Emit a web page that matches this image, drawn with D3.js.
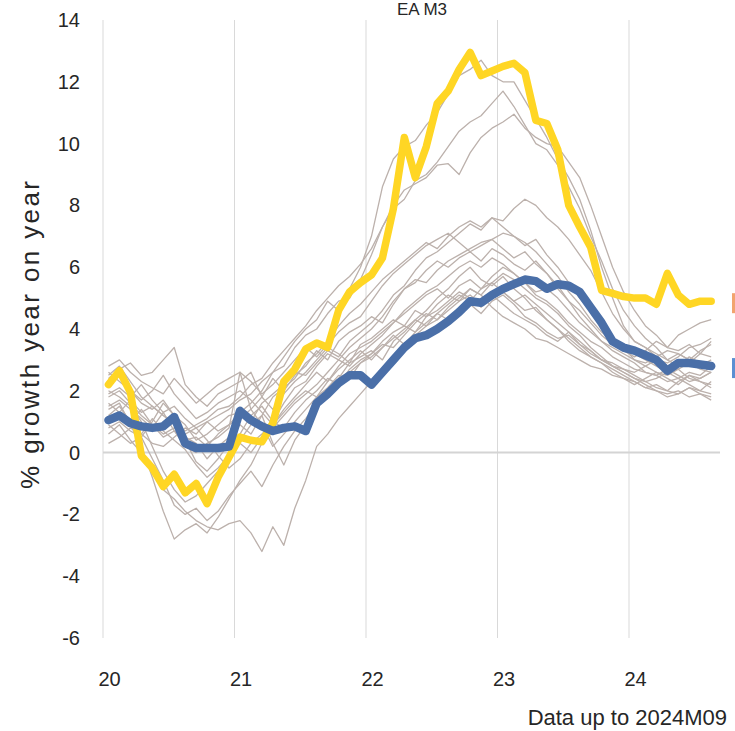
<!DOCTYPE html>
<html>
<head>
<meta charset="utf-8">
<script src="https://cdn.jsdelivr.net/npm/d3@7/dist/d3.min.js"></script>
<style>
  html, body { margin: 0; padding: 0; background: #fff; }
  svg { display: block; }
  text { font-family: "Liberation Sans", Arial, sans-serif; fill: #262626; }
</style>
</head>
<body>
<svg id="chart" width="735" height="731"></svg>
<script>
// Monthly year-on-year M3 growth, 2020M01 .. 2024M08
const yearTicks = [0, 12, 24, 36, 48];
const yearLabels = ["20", "21", "22", "23", "24"];
const yTicks = [-6, -4, -2, 0, 2, 4, 6, 8, 10, 12, 14];

// Euro area aggregate (blue)
const euroArea = [
  1.05, 1.2, 0.95, 0.85, 0.8, 0.85, 1.15, 0.3, 0.15, 0.15, 0.15, 0.2,
  1.35, 1.05, 0.85, 0.7, 0.8, 0.85, 0.7, 1.6, 1.9, 2.25, 2.5, 2.5,
  2.2, 2.6, 3.0, 3.4, 3.7, 3.8, 4.0, 4.25, 4.55, 4.9, 4.85, 5.1,
  5.3, 5.45, 5.6, 5.55, 5.3, 5.45, 5.4, 5.2, 4.7, 4.2, 3.6, 3.4,
  3.3, 3.15, 3.0, 2.65, 2.9, 2.9, 2.85, 2.8
];

// Highlighted country (yellow)
const highlighted = [
  2.2, 2.65, 1.95, -0.1, -0.5, -1.1, -0.7, -1.3, -1.0, -1.65, -0.8, -0.15,
  0.5, 0.4, 0.35, 0.95, 2.3, 2.7, 3.35, 3.55, 3.4, 4.6, 5.2, 5.5,
  5.75, 6.3, 7.9, 10.2, 8.9, 9.9, 11.3, 11.7, 12.4, 12.95, 12.2, 12.35,
  12.5, 12.6, 12.3, 10.75, 10.65, 9.8, 8.0, 7.3, 6.65, 5.25, 5.15, 5.05,
  5.0, 5.0, 4.8, 5.8, 5.1, 4.8, 4.9, 4.9
];

// Other member countries (grey)
const country01 = [
  1.8, 2.0, 1.6, 1.2, 0.9, 0.6, 0.8, 0.4, 0.5, 0.2, 0.6, 0.9,
  1.3, 1.6, 2.0, 2.6, 3.1, 3.6, 4.0, 4.3, 4.9, 4.6, 5.3, 6.0,
  7.0, 8.6, 9.5, 9.9, 10.1, 10.6, 11.0, 11.6, 12.2, 12.4, 12.7, 12.2,
  12.0, 12.0, 11.4, 10.8, 10.2, 9.5, 8.9, 8.2, 7.2, 6.0, 5.0, 4.1,
  3.6, 3.4, 3.1, 2.8, 3.0, 2.9, 2.7, 2.6
];
const country02 = [
  2.5, 2.8, 2.3, 1.8, 1.5, 1.2, 1.0, 0.7, 0.9, 1.1, 1.4, 1.5,
  1.8, 2.2, 2.4, 2.9, 3.3, 3.7, 4.1, 4.6, 5.0, 5.4, 5.7, 6.1,
  6.6, 7.3, 7.9, 8.2, 8.8, 9.0, 9.4, 9.9, 10.4, 10.7, 10.9, 11.3,
  11.7, 11.2, 10.6, 10.0, 9.8, 9.3, 8.6, 7.9, 7.0, 6.2, 5.3, 4.6,
  4.1, 3.7, 3.4, 3.0, 3.2, 3.0, 2.8, 3.0
];
const country03 = [
  1.2, 1.5, 1.0, 0.6, 0.3, 0.2, 0.5, 0.8, 0.6, 1.0, 1.2, 1.4,
  1.7, 1.9, 2.3, 2.6, 2.8, 3.4, 3.8, 4.0, 4.5, 4.9, 5.0, 5.6,
  6.4, 7.3, 8.0, 8.5, 8.7, 8.9, 9.3, 9.35, 9.0, 9.7, 10.2, 10.5,
  10.7, 10.95, 10.5, 10.2, 10.0, 9.9, 9.4, 8.9, 8.0, 7.0, 6.0, 5.2,
  4.6, 4.1, 3.8, 3.4, 3.3, 3.5, 3.2, 3.1
];
const country04 = [
  2.2, 2.5, 2.0, 1.6, 1.4, 1.7, 1.2, 0.9, 0.4, 0.6, 0.9, 1.2,
  1.3, 1.0, 1.6, 1.9, 2.2, 2.6, 2.5, 2.9, 3.3, 3.1, 3.6, 3.9,
  4.2, 4.6, 5.1, 5.4, 5.9, 6.3, 6.5, 6.8, 7.1, 7.4, 7.2, 7.6,
  7.5, 7.9, 8.2, 8.0, 7.6, 7.3, 6.9, 6.4, 5.9, 5.2, 4.5, 4.0,
  3.6, 3.4, 3.2, 3.0, 2.8, 3.1, 2.9, 2.7
];
const country05 = [
  1.5, 1.7, 1.4, 1.1, 0.8, 1.3, 0.7, 0.5, 0.3, -0.2, 0.2, 0.5,
  0.9, 0.6, 1.2, 1.8, 2.1, 2.4, 2.9, 3.2, 3.6, 4.1, 4.5, 4.8,
  5.2, 5.6, 5.9, 6.2, 6.5, 6.8, 6.6, 7.0, 7.3, 7.5, 7.3, 7.6,
  7.3, 7.0, 6.8, 6.5, 6.1, 5.7, 5.2, 4.8, 4.3, 3.9, 3.6, 3.4,
  3.0, 2.8, 2.6, 2.4, 2.2, 2.5, 2.3, 2.1
];
const country06 = [
  2.8, 3.0, 2.6, 2.3, 2.1, 1.9, 2.4, 2.0, 1.6, 1.9, 2.2, 2.4,
  2.6, 2.3, 1.9, 2.2, 2.6, 3.0, 3.4, 3.1, 3.5, 3.9, 4.2, 4.4,
  4.9, 5.4, 5.8, 6.1, 6.4, 6.7, 6.9, 7.1, 6.8, 6.5, 6.7, 6.9,
  6.6, 6.3, 6.5, 6.1, 5.8, 5.4, 4.9, 4.6, 4.2, 3.8, 3.5, 3.3,
  3.1, 3.3, 3.6, 3.4, 3.8, 4.0, 4.2, 4.3
];
const country07 = [
  0.8, 1.0, 0.7, 0.5, 1.0, 1.6, 1.2, 0.4, -0.3, -0.6, -0.2, 0.3,
  0.6, 1.2, 1.5, 1.0, 1.6, 2.1, 2.3, 2.8, 3.2, 3.0, 3.4, 3.7,
  4.0, 4.4, 4.9, 5.3, 5.6, 5.5, 5.9, 6.2, 6.4, 6.6, 6.8, 6.9,
  7.1, 7.0, 6.7, 6.9, 6.4, 6.0, 5.5, 5.0, 4.6, 4.1, 3.7, 3.5,
  3.2, 3.0, 2.8, 2.6, 2.7, 2.4, 2.3, 2.2
];
const country08 = [
  1.9, 2.1, 1.8, 2.2, 1.7, 1.3, 1.5, 1.1, 0.8, 1.0, 0.7, 0.9,
  1.1, 1.4, 1.8, 2.4, 2.0, 2.5, 2.8, 3.3, 3.0, 3.6, 3.9, 4.1,
  4.4, 4.2, 4.8, 5.3, 5.5, 5.9, 6.2, 6.0, 6.3, 6.5, 6.2, 6.6,
  6.4, 6.1, 5.9, 6.2, 5.8, 5.3, 4.9, 4.4, 4.0, 3.6, 3.3, 3.1,
  2.9, 2.6, 2.5, 2.7, 2.5, 2.3, 2.4, 2.6
];
const country09 = [
  1.4, 1.6, 0.9, 0.2, -0.8, -1.9, -2.8, -2.5, -2.3, -2.6, -2.1, -1.5,
  -0.9, -0.4, 0.3, 0.8, 1.2, 1.6, 1.9, 2.2, 2.6, 3.0, 2.8, 3.2,
  3.5, 3.8, 4.2, 4.5, 4.8, 5.1, 5.3, 5.0, 5.4, 5.6, 5.3, 5.5,
  5.2, 4.9, 5.1, 4.8, 4.5, 4.2, 3.9, 3.6, 3.3, 3.0, 2.8, 2.6,
  2.4, 2.3, 2.1, 2.0, 1.9, 2.1, 1.9, 1.8
];
const country10 = [
  0.6, 0.9, 0.4, 0.0, -0.5, -1.2, -1.5, -1.9, -2.2, -2.4, -2.5, -2.3,
  -2.2, -2.6, -3.2, -2.4, -3.0, -1.8, -0.9, 0.2, 0.6, 1.1, 1.5, 1.9,
  2.3, 2.7, 3.0, 3.4, 3.8, 4.1, 4.3, 4.6, 4.9, 5.1, 4.8, 5.0,
  5.2, 4.9, 4.6, 4.7, 4.3, 4.0, 3.7, 3.4, 3.1, 2.9, 2.7, 2.5,
  2.3, 2.1, 2.0, 1.9, 2.0, 1.8, 1.9, 1.7
];
const country11 = [
  2.0, 1.8, 1.5, 1.0, 0.2, -0.6, -1.2, -1.6, -1.4, -1.0, -0.6, -0.3,
  0.4, 0.9, 1.2, 0.3, -0.4, 0.4, 0.9, 1.5, 2.0, 2.4, 2.9, 3.1,
  3.3, 3.0, 3.6, 3.9, 4.3, 4.6, 5.0, 5.3, 5.7, 6.0, 5.6, 5.4,
  5.7, 5.3, 5.0, 4.6, 4.3, 4.0, 3.6, 3.3, 3.1, 2.9, 2.6, 2.4,
  2.2, 2.4, 2.6, 2.5, 2.7, 2.9, 3.2, 3.6
];
const country12 = [
  2.4, 2.7, 2.9, 2.5, 2.6, 3.0, 3.4, 2.2, 1.8, 1.5, 1.9, 2.1,
  2.3, 2.6, 1.8, 1.4, 1.9, 2.3, 2.6, 3.0, 3.4, 3.2, 2.9, 3.5,
  3.7, 4.0, 4.3, 4.1, 4.6, 4.4, 4.8, 5.1, 4.9, 5.3, 5.1, 4.7,
  4.4, 4.2, 4.0, 3.7, 3.6, 3.4, 3.2, 3.0, 2.8, 2.7, 2.5, 2.4,
  2.3, 2.1, 2.2, 2.0, 2.3, 2.5, 2.4, 2.6
];
const country13 = [
  1.6, 1.3, 1.0, 1.4, 0.9, 0.5, 0.7, 0.2, 0.0, 0.3, 0.5, 0.8,
  2.6, 1.4, 0.9, 0.2, 0.6, 1.0, 1.4, 1.8, 2.1, 2.5, 2.4, 2.9,
  3.2, 3.5, 3.4, 3.8, 4.2, 4.5, 4.3, 4.7, 5.0, 5.3, 5.1, 5.5,
  5.8, 5.6, 5.3, 5.0, 4.8, 4.5, 4.1, 3.8, 3.4, 3.1, 2.8, 2.7,
  2.6, 2.8, 3.0, 2.9, 3.1, 3.4, 3.5, 3.7
];
const country14 = [
  1.1, 1.3, 1.7, 1.3, 1.5, 1.2, 0.9, 0.6, 0.8, 0.4, -0.1, -0.5,
  -0.2, 0.3, 0.6, 1.0, 0.8, 1.3, 1.7, 2.0, 2.4, 2.2, 2.7, 3.0,
  3.2, 3.6, 3.9, 4.1, 3.9, 4.4, 4.6, 4.9, 5.2, 5.0, 4.7, 5.1,
  4.8, 4.5, 4.3, 4.1, 3.8, 3.6, 3.9, 3.5, 3.2, 3.0, 2.9, 2.7,
  2.5, 2.3, 2.4, 2.6, 2.4, 2.2, 2.0, 2.3
];
const country15 = [
  0.9, 0.6, 0.3, 0.5, -0.2, -0.9, -1.7, -2.0, -1.8, -2.2, -1.9, -1.4,
  -1.0, -0.6, -1.1, -0.4, 0.2, 0.7, 1.1, 1.6, 2.0, 2.3, 2.6, 2.9,
  3.1, 3.4, 3.7, 4.0, 4.3, 4.1, 4.5, 4.8, 5.1, 4.9, 5.3, 5.7,
  6.0, 5.8, 5.5, 5.1, 4.9, 4.6, 4.2, 3.9, 3.6, 3.4, 3.1, 2.9,
  2.7, 2.6, 2.5, 2.3, 2.4, 2.6, 2.5, 2.8
];
const country16 = [
  2.6, 2.3, 2.0, 1.7, 2.0, 2.5, 1.9, 1.5, 1.1, 1.3, 1.6, 1.8,
  2.0, 1.7, 1.3, 0.9, 1.4, 1.8, 2.2, 2.6, 2.3, 2.8, 3.2, 3.4,
  3.6, 3.9, 4.2, 4.6, 4.9, 5.2, 5.4, 5.7, 6.0, 6.2, 6.0, 6.3,
  6.1, 5.8, 5.5, 5.2, 5.3, 5.0, 4.6, 4.2, 3.9, 3.6, 3.4, 3.2,
  3.0, 2.9, 3.1, 3.3, 3.2, 3.0, 3.3, 3.5
];
const country17 = [
  0.3, 0.5, 0.8, 0.6, 1.1, 0.7, 0.4, 0.1, -0.4, -0.8, -0.5, -0.1,
  0.3, 0.0, 0.5, 0.9, 1.3, 1.7, 2.0, 1.8, 2.3, 2.7, 3.0, 3.3,
  3.0, 3.4, 3.8, 3.5, 3.9, 4.2, 4.5, 4.3, 4.6, 4.8, 4.5, 4.9,
  5.1, 4.8, 4.4, 4.2, 3.9, 3.7, 3.8, 3.5, 3.3, 3.0, 2.8, 2.6,
  2.4, 2.2, 2.0, 1.8, 1.9, 2.1, 2.0, 1.9
];

const greySeries = [
  country01, country02, country03, country04, country05, country06,
  country07, country08, country09, country10, country11, country12,
  country13, country14, country15, country16, country17
];

const svg = d3.select("#chart");

// month index -> x (years start at the vertical gridlines); values sit mid-month
const x = d3.scaleLinear().domain([0, 48]).range([103, 629]);
const y = d3.scaleLinear().domain([-6, 14]).range([638, 20]);

const line = d3.line()
  .x((d, i) => x(i + 0.5))
  .y(d => y(d));

// plain hyphen for negative tick labels
const tickText = d => (d < 0 ? "-" + Math.abs(d) : String(d));

// title
svg.append("text")
  .attr("x", 422).attr("y", 15)
  .attr("text-anchor", "middle")
  .style("font-size", "17px")
  .text("EA M3");

// vertical year gridlines
svg.append("g").selectAll("line")
  .data(yearTicks)
  .join("line")
  .attr("x1", d => x(d)).attr("x2", d => x(d))
  .attr("y1", y(14)).attr("y2", y(-6))
  .attr("stroke", "#d9d9d9")
  .attr("stroke-width", 1);

// zero line
svg.append("line")
  .attr("x1", x(0)).attr("x2", 720)
  .attr("y1", y(0)).attr("y2", y(0))
  .attr("stroke", "#d4d4d4")
  .attr("stroke-width", 2);

// y axis labels
const yAxis = d3.axisLeft(y).tickValues(yTicks).tickSize(0).tickPadding(0)
  .tickFormat(tickText);
const yG = svg.append("g")
  .attr("transform", `translate(${80},0)`)
  .call(yAxis);
yG.select(".domain").remove();
yG.selectAll("text")
  .style("font-family", '"Liberation Sans", Arial, sans-serif')
  .style("font-size", "20px")
  .attr("fill", "#262626");

// x axis labels
const xAxis = d3.axisBottom(x).tickValues(yearTicks).tickSize(0).tickPadding(0)
  .tickFormat((d, i) => yearLabels[i]);
const xG = svg.append("g")
  .attr("transform", `translate(${6},${672})`)
  .call(xAxis);
xG.select(".domain").remove();
xG.selectAll("text")
  .style("font-family", '"Liberation Sans", Arial, sans-serif')
  .style("font-size", "20px")
  .attr("fill", "#262626");

// axis title
svg.append("text")
  .attr("transform", "translate(39,335) rotate(-90)")
  .attr("text-anchor", "middle")
  .attr("textLength", 308)
  .attr("lengthAdjust", "spacing")
  .style("font-size", "26px")
  .text("% growth year on year");

// footnote
svg.append("text")
  .attr("x", 727).attr("y", 725)
  .attr("text-anchor", "end")
  .style("font-size", "22px")
  .text("Data up to 2024M09");

// grey country lines
svg.append("g").selectAll("path")
  .data(greySeries)
  .join("path")
  .attr("d", line)
  .attr("fill", "none")
  .attr("stroke", "#bcb1ac")
  .attr("stroke-width", 1.3)
  .attr("stroke-linejoin", "round");

// highlighted country
svg.append("path")
  .datum(highlighted)
  .attr("d", line)
  .attr("fill", "none")
  .attr("stroke", "#ffd624")
  .attr("stroke-width", 7.5)
  .attr("stroke-linejoin", "round")
  .attr("stroke-linecap", "round");

// euro area aggregate
svg.append("path")
  .datum(euroArea)
  .attr("d", line)
  .attr("fill", "none")
  .attr("stroke", "#4a6fa8")
  .attr("stroke-width", 8.5)
  .attr("stroke-linejoin", "round")
  .attr("stroke-linecap", "round");

// legend keys at the right edge, level with each series' last value
const legendKeys = [
  { color: "#f2a46e", v: highlighted[highlighted.length - 1] },
  { color: "#5b8fd2", v: euroArea[euroArea.length - 1] }
];
svg.append("g").selectAll("rect")
  .data(legendKeys)
  .join("rect")
  .attr("x", 732)
  .attr("y", d => y(d.v) - 8)
  .attr("width", 8)
  .attr("height", 20)
  .attr("fill", d => d.color);
</script>
</body>
</html>
